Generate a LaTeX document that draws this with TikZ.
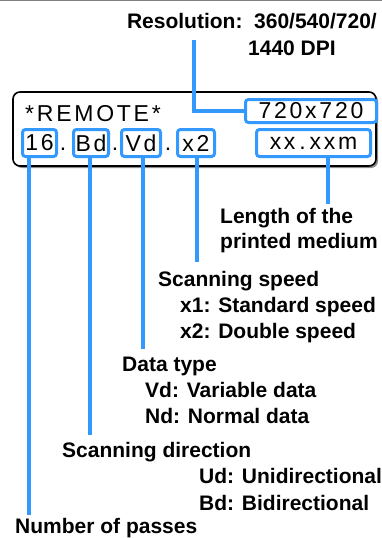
\documentclass[tikz,border=0pt]{standalone}
\usepackage{fontspec}
\setmainfont{Liberation Sans}
\newfontfamily\lcdfont[LetterSpace=12]{Liberation Sans}
\usetikzlibrary{positioning,shadows}
\definecolor{leadblue}{RGB}{51,153,255}

\begin{document}
\begin{tikzpicture}[x=1pt,y=-1pt,
note/.style={anchor=base west,inner sep=0pt,font=\fontsize{21}{24}\selectfont\bfseries},
lcd/.style={inner sep=0pt,font=\fontsize{23}{26}\selectfont\lcdfont},
field/.style={draw=leadblue,line width=3pt,rounded corners=3pt,fill=white,minimum height=27pt,inner sep=0pt,font=\fontsize{23}{26}\selectfont\lcdfont},
panel/.style={draw,line width=1.6pt,rounded corners=7pt,fill=white,drop shadow={shadow xshift=2pt,shadow yshift=-2pt,fill=black!45,opacity=1}},
lead/.style={draw=leadblue,line width=4pt}]
\useasboundingbox (0,0) rectangle (382,538);
\draw[gray,line width=1pt] (0,0.5) -- (382,0.5);
% display panel
\node[panel,minimum width=363pt,minimum height=74pt] (panel) at (194.5,129) {};
\node[lcd,anchor=base west] (remote) at (25,121) {*REMOTE*};
\node[lcd,anchor=base] (dot1) at (63,150) {.};
\node[lcd,anchor=base] (dot2) at (115,150) {.};
\node[lcd,anchor=base] (dot3) at (168,150) {.};
% fields
\node[field,minimum width=131pt,minimum height=23pt] (res) at (311,111) {720x720};
\node[field,minimum width=34pt] (pass) at (39.5,143) {16};
\node[field,minimum width=35pt] (dir) at (91,143) {Bd};
\node[field,minimum width=39pt] (dtype) at (141,143) {Vd};
\node[field,minimum width=37pt] (speed) at (196,143) {x2};
\node[field,minimum width=114pt] (len) at (313.5,143) {xx\,.\,xxm};
% texts
\node[note,anchor=base east] (restxt) at (377,28) {Resolution:\ \ 360/540/720/};
\node[note] (restxt2) at (248,55) {1440 DPI};
\node[note] (lentxt) at (220,223) {Length of the};
\node[note] (lentxt2) at (220,248) {printed medium};
\node[note] (spdtxt) at (158,286) {Scanning speed};
\node[note] (spdx1) at (180,312) {x1: Standard speed};
\node[note] (spdx2) at (180,338) {x2: Double speed};
\node[note] (dtxt) at (122,371) {Data type};
\node[note] (dvd) at (145,397) {Vd: Variable data};
\node[note] (dnd) at (145,423) {Nd: Normal data};
\node[note] (dirtxt) at (62,457) {Scanning direction};
\node[note] (dirud) at (199,483) {Ud: Unidirectional};
\node[note] (dirbd) at (199,510) {Bd: Bidirectional};
\node[note] (passtxt) at (15,533) {Number of passes};
% leads
\coordinate (restop) at (194,40);
\coordinate (lenend) at (328,204);
\coordinate (speedend) at (197,262);
\coordinate (dtypeend) at (143,349);
\coordinate (dirend) at (90,435);
\coordinate (passend) at (29,515);
\draw[lead] (restop) |- (res.west);
\draw[lead] (len.south -| lenend) -- (lenend);
\draw[lead] (speed.south -| speedend) -- (speedend);
\draw[lead] (dtype.south -| dtypeend) -- (dtypeend);
\draw[lead] (dir.south -| dirend) -- (dirend);
\draw[lead] (pass.south -| passend) -- (passend);
\end{tikzpicture}
\end{document}
